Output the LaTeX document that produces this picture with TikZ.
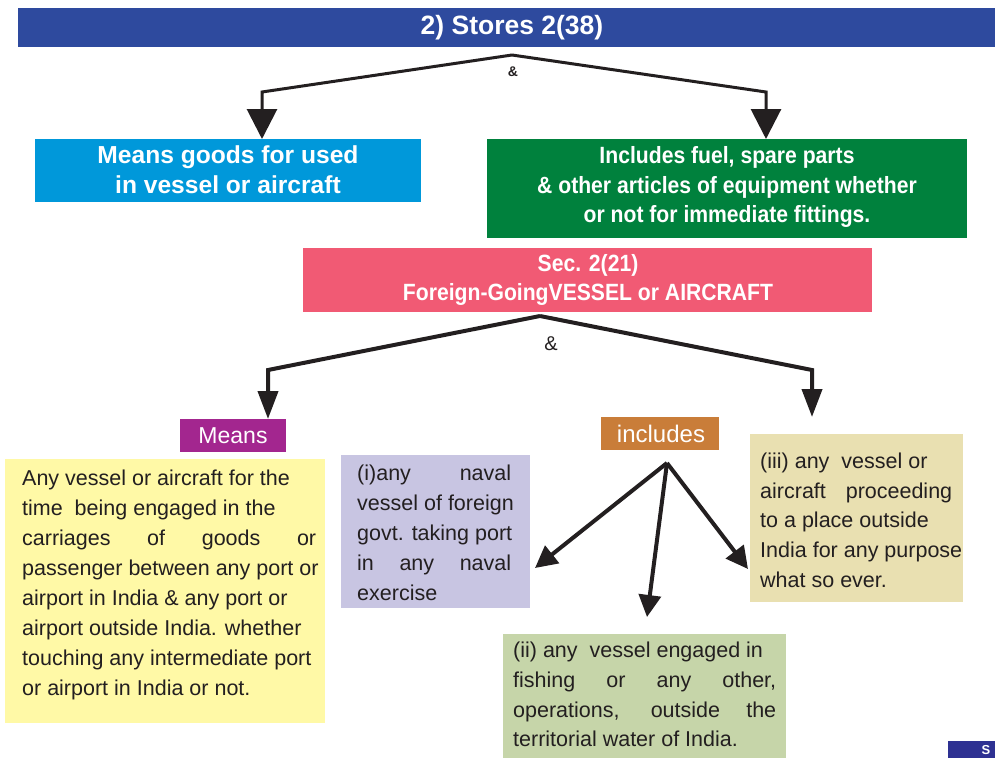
\documentclass[tikz,border=0pt]{standalone}
\usepackage{fontspec}
\setmainfont{Liberation Sans}
\newfontfamily\cond[FakeStretch=0.9]{Liberation Sans}
\usetikzlibrary{arrows.meta}
\definecolor{cTitle}{HTML}{2E4A9E}
\definecolor{cBlue}{HTML}{0098DA}
\definecolor{cGreen}{HTML}{00813D}
\definecolor{cPink}{HTML}{F15A74}
\definecolor{cPurple}{HTML}{A3268F}
\definecolor{cOrange}{HTML}{C97D39}
\definecolor{cYellow}{HTML}{FFF9A6}
\definecolor{cLav}{HTML}{C8C5E2}
\definecolor{cBeige}{HTML}{E9E0B1}
\definecolor{cSage}{HTML}{C6D5A9}
\definecolor{cNavy}{HTML}{2E3192}
\definecolor{cInk}{HTML}{231F20}
\tikzset{
  box/.style={anchor=north west, inner sep=0pt, outer sep=0pt, draw=none},
  boldtxt/.style={text=white, font=\cond\bfseries\fontsize{23.5}{29.5}\selectfont, align=center, inner sep=0pt},
  bodytxt/.style={text=cInk, font=\fontsize{21.5}{30}\selectfont, align=left, anchor=north west, inner sep=0pt},
  bigarrow/.style={draw=cInk, line width=3pt, -{Triangle[width=30pt,length=30pt]}},
  midarrow/.style={draw=cInk, line width=4pt, -{Triangle[width=20pt,length=28pt]}},
  smallarrow/.style={draw=cInk, line width=4pt, -{Triangle[width=22pt,length=22pt]}}
}
\begin{document}
\begin{tikzpicture}[x=1pt,y=-1pt]
\useasboundingbox (0,0) rectangle (995,758);
\clip (0,0) rectangle (995,758);
% title
\node[box, fill=cTitle, minimum width=977pt, minimum height=39pt] (title) at (18,8) {};
\node[text=white, font=\bfseries\fontsize{26.5}{30}\selectfont, inner sep=0pt] (titletxt) at (512,27.5) {2) Stores 2(38)};
\coordinate (t1) at (512,55);
\node[font=\bfseries\fontsize{14}{16}\selectfont, text=cInk, inner sep=0pt] (amp1) at (513,72) {\&};
% level 1 boxes
\node[box, fill=cBlue, minimum width=386pt, minimum height=63pt] (blue) at (35,139) {};
\node[boldtxt, font=\bfseries\fontsize{24.6}{30}\selectfont] (bluetxt) at (228,170) {Means goods for used\\in vessel or aircraft};
\node[box, fill=cGreen, minimum width=480pt, minimum height=99pt] (green) at (487,139) {};
\node[boldtxt] (greentxt) at (727,187) {Includes fuel, spare parts\\\& other articles of equipment whether\\or not for immediate fittings.};
\draw[bigarrow] (t1) -- (262,92) -- (262,0 |- blue.north);
\draw[bigarrow] (t1) -- (766,92) -- (766,0 |- green.north);
% pink
\node[box, fill=cPink, minimum width=569pt, minimum height=64pt] (pink) at (303,248) {};
\node[boldtxt] (pinktxt) at (588,280) {Sec. 2(21)\\Foreign-GoingVESSEL or AIRCRAFT};
\coordinate (t2) at (540,316);
\node[font=\fontsize{20}{22}\selectfont, text=cInk, inner sep=0pt] (amp2) at (551,344) {\&};
% labels
\node[box, fill=cPurple, minimum width=106pt, minimum height=33pt] (means) at (180,419) {};
\node[text=white, font=\fontsize{23}{26}\selectfont, inner sep=0pt] (meanstxt) at (233,435.5) {Means};
\node[box, fill=cOrange, minimum width=118pt, minimum height=33pt] (incl) at (601,417) {};
\node[text=white, font=\fontsize{24}{26}\selectfont, inner sep=0pt] (incltxt) at (661,433.5) {includes};
\coordinate (rtip) at (812,417);
\draw[midarrow] (t2) -- (268,370) -- (268,0 |- means.north);
\draw[midarrow] (t2) -- (812,370) -- (rtip);
% yellow
\node[box, fill=cYellow, minimum width=320pt, minimum height=264pt] (yellow) at (5,459) {};
\node[bodytxt] (yellowtxt) at (22,470) {Any vessel or aircraft for the\\
time\ \ being engaged in the\\
\makebox[294pt][s]{carriages of goods or}\\
passenger between any port or\\
airport in India \& any port or\\
airport outside India. whether\\
touching any intermediate port\\
or airport in India or not.};
% lavender
\node[box, fill=cLav, minimum width=189pt, minimum height=153pt] (lav) at (341,455) {};
\node[bodytxt] (lavtxt) at (357,465) {\makebox[154pt][s]{(i)any naval}\\
vessel of foreign\\
govt. taking port\\
\makebox[154pt][s]{in any naval}\\
exercise};
% beige
\node[box, fill=cBeige, minimum width=213pt, minimum height=168pt] (beige) at (750,434) {};
\node[bodytxt, font=\fontsize{21.5}{29.6}\selectfont] (beigetxt) at (760,453) {(iii) any\ \ vessel or\\
\makebox[192pt][s]{aircraft proceeding}\\
to a place outside\\
India for any purpose\\
what so ever.};
% sage
\node[box, fill=cSage, minimum width=283pt, minimum height=124pt] (sage) at (503,634) {};
\node[bodytxt, font=\fontsize{21.5}{29.7}\selectfont] (sagetxt) at (513,642) {(ii) any\ \ vessel engaged in\\
\makebox[263pt][s]{fishing or any other,}\\
\makebox[263pt][s]{operations, outside the}\\
territorial water of India.};
% includes arrows
\coordinate (t3) at (667,463);
\coordinate (e1) at (535,568);
\coordinate (e2) at (647,617);
\coordinate (e3) at (748,569);
\draw[smallarrow] (t3) -- (e1);
\draw[smallarrow] (t3) -- (e2);
\draw[smallarrow] (t3) -- (e3);
% corner
\node[box, fill=cNavy, minimum width=47pt, minimum height=17pt] (navy) at (948,741) {};
\node[text=white, font=\bfseries\fontsize{13}{14}\selectfont, inner sep=0pt] (navytxt) at (986,750) {S};
\end{tikzpicture}
\end{document}
